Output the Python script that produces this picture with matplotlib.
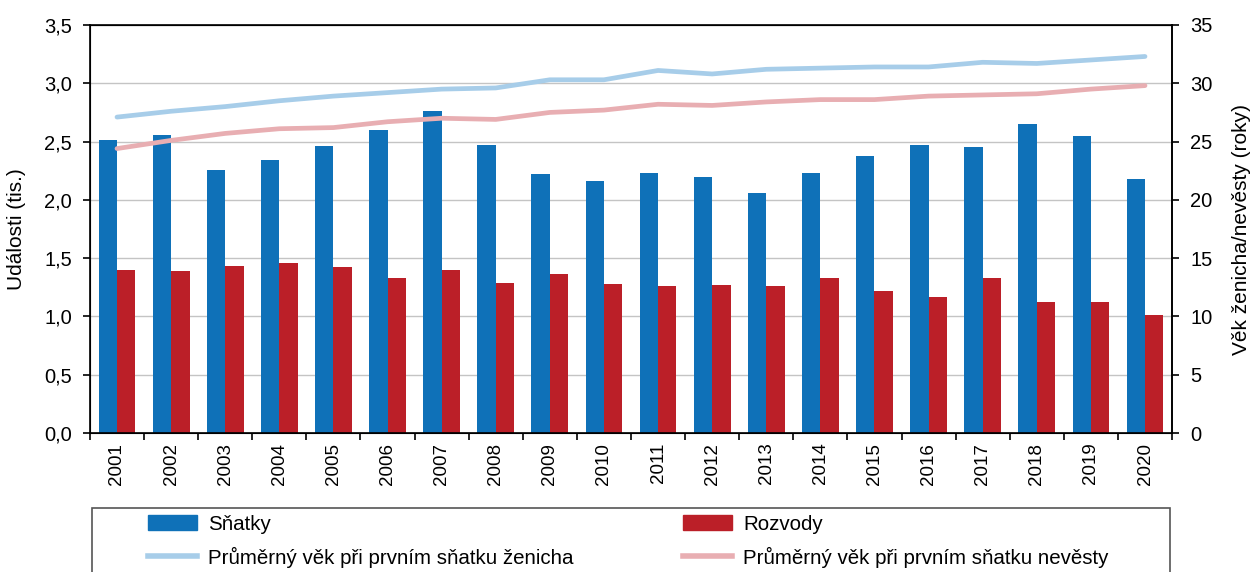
import numpy as np
import matplotlib
matplotlib.use("Agg")
from matplotlib import pyplot as plt
from matplotlib.patches import Patch, Rectangle
from matplotlib.lines import Line2D
from matplotlib.ticker import FuncFormatter

plt.rcParams['font.family'] = ['Liberation Sans', 'DejaVu Sans']

# data
years = ['2001', '2002', '2003', '2004', '2005', '2006', '2007', '2008', '2009', '2010',
         '2011', '2012', '2013', '2014', '2015', '2016', '2017', '2018', '2019', '2020']
snatky = [2.51, 2.56, 2.26, 2.34, 2.46, 2.60, 2.76, 2.47, 2.22, 2.16,
          2.23, 2.20, 2.06, 2.23, 2.38, 2.47, 2.45, 2.65, 2.55, 2.18]
rozvody = [1.40, 1.39, 1.43, 1.46, 1.42, 1.33, 1.40, 1.29, 1.36, 1.28,
           1.26, 1.27, 1.26, 1.33, 1.22, 1.17, 1.33, 1.12, 1.12, 1.01]
vek_zenich = [27.1, 27.6, 28.0, 28.5, 28.9, 29.2, 29.5, 29.6, 30.3, 30.3,
              31.1, 30.8, 31.2, 31.3, 31.4, 31.4, 31.8, 31.7, 32.0, 32.3]
vek_nevesta = [24.4, 25.1, 25.7, 26.1, 26.2, 26.7, 27.0, 26.9, 27.5, 27.7,
               28.2, 28.1, 28.4, 28.6, 28.6, 28.9, 29.0, 29.1, 29.5, 29.8]

blue = '#0f71b8'
red = '#bb1f28'
light_blue = '#a7cde9'
pink = '#e8aeb2'
fs_tick = 14.5
fs_year = 13.5
fs_lab = 15
fs_leg = 14.8

fig = plt.figure(figsize=(12.51, 5.72), dpi=100)
ax = fig.add_axes([0.0719, 0.2430, 0.8650, 0.7133])

x = np.arange(len(years))
w = 0.34
ax.bar(x - w / 2, snatky, w, color=blue, zorder=2)
ax.bar(x + w / 2, rozvody, w, color=red, zorder=2)

ax.set_xlim(-0.5, len(years) - 0.5)
ax.set_ylim(0, 3.5)
ax.set_yticks(np.arange(0, 3.51, 0.5))
ax.yaxis.set_major_formatter(FuncFormatter(lambda v, p: f'{v:.1f}'.replace('.', ',')))
ax.set_xticks(np.arange(-0.5, len(years), 1.0), minor=False)
ax.set_xticklabels([])
ax.set_xticks(x, minor=True)
ax.set_xticklabels(years, minor=True, rotation=90, fontsize=fs_year)
ax.tick_params(axis='x', which='minor', length=0, pad=7)
ax.tick_params(axis='x', which='major', length=5, width=1.2, direction='out')
ax.tick_params(axis='y', length=5, width=1.2, labelsize=fs_tick, pad=8)
ax.grid(axis='y', color='#c4c4c4', lw=1, zorder=0)
ax.set_axisbelow(True)
for s in ax.spines.values():
    s.set_linewidth(1.2)
ax.set_ylabel('Události (tis.)', fontsize=fs_lab, labelpad=13)

ax2 = ax.twinx()
ax2.plot(x, vek_zenich, color=light_blue, lw=3.4, solid_capstyle='round')
ax2.plot(x, vek_nevesta, color=pink, lw=3.4, solid_capstyle='round')
ax2.set_ylim(0, 35)
ax2.set_yticks(np.arange(0, 36, 5))
ax2.tick_params(axis='y', length=5, width=1.2, labelsize=fs_tick, pad=8)
ax2.spines['right'].set_linewidth(1.2)
ax2.set_ylabel('Věk ženicha/nevěsty (roky)', fontsize=fs_lab, labelpad=14)

# legend with its box running off the bottom edge
fig.add_artist(Rectangle((92 / 1251, -0.05), (1170 - 92) / 1251, (572 - 508) / 572 + 0.05,
                         transform=fig.transFigure, fill=False, edgecolor='#555555', lw=1.2))
handles = [Patch(color=blue), Line2D([], [], color=light_blue, lw=4),
           Patch(color=red), Line2D([], [], color=pink, lw=4)]
labels = ['Sňatky', 'Průměrný věk při prvním sňatku ženicha',
          'Rozvody', 'Průměrný věk při prvním sňatku nevěsty']
fig.legend(handles, labels, ncol=2, loc='upper left', bbox_to_anchor=(148 / 1251, 1 - 515 / 572),
           frameon=False, fontsize=fs_leg, borderpad=0, borderaxespad=0, handlelength=2.4,
           handleheight=0.75, handletextpad=0.53, columnspacing=5.3, labelspacing=0.62)

fig.savefig('out.png', dpi=100)
